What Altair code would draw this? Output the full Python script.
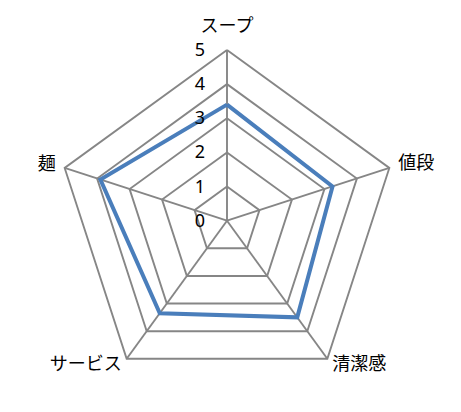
import altair as alt
import numpy as np
import pandas as pd

# ---- data ----
categories = ["スープ", "値段", "清潔感", "サービス", "麺"]
values = [3.4, 3.25, 3.5, 3.35, 3.9]
levels = [1, 2, 3, 4, 5]
tick_values = [0, 1, 2, 3, 4, 5]
tick_labels = ["0", "1", "2", "3", "4", "5"]
max_value = 5

n = len(categories)
angles = np.pi / 2 - 2 * np.pi * np.arange(n) / n

# grid pentagons
grid_rows = []
for lv in levels:
    for k in range(n + 1):
        a = angles[k % n]
        grid_rows.append({"level": lv, "ord": k, "x": lv * np.cos(a), "y": lv * np.sin(a)})
grid_df = pd.DataFrame(grid_rows)

# spokes
spoke_df = pd.DataFrame({
    "cat": categories,
    "x0": [0.0] * n,
    "y0": [0.0] * n,
    "x1": max_value * np.cos(angles),
    "y1": max_value * np.sin(angles),
})

# data polygon
data_rows = []
for k in range(n + 1):
    a = angles[k % n]
    v = values[k % n]
    data_rows.append({"ord": k, "cat": categories[k % n], "x": v * np.cos(a), "y": v * np.sin(a)})
data_df = pd.DataFrame(data_rows)

# tick labels along the first axis
tick_df = pd.DataFrame({
    "label": tick_labels,
    "x": np.array(tick_values) * np.cos(angles[0]),
    "y": np.array(tick_values) * np.sin(angles[0]),
})

xs = alt.Scale(domain=[-6.415, 6.62], nice=False, zero=False)
ys = alt.Scale(domain=[-5.369, 6.230], nice=False, zero=False)

GRID = "#868686"
BLUE = "#4A7EBB"

grid = alt.Chart(grid_df).mark_line(color=GRID, strokeWidth=1.9).encode(
    x=alt.X("x:Q", scale=xs, axis=None),
    y=alt.Y("y:Q", scale=ys, axis=None),
    detail="level:N",
    order="ord:Q",
)

spokes = alt.Chart(spoke_df).mark_rule(color=GRID, strokeWidth=1.9).encode(
    x=alt.X("x0:Q", scale=xs, axis=None),
    y=alt.Y("y0:Q", scale=ys, axis=None),
    x2="x1:Q",
    y2="y1:Q",
)

series = alt.Chart(data_df).mark_line(color=BLUE, strokeWidth=4, strokeJoin="miter").encode(
    x=alt.X("x:Q", scale=xs, axis=None),
    y=alt.Y("y:Q", scale=ys, axis=None),
    order="ord:Q",
)

ticks = alt.Chart(tick_df).mark_text(
    align="right", baseline="middle", dx=-22, dy=1,
    fontSize=18, font="Noto Sans", color="#000000",
).encode(
    x=alt.X("x:Q", scale=xs, axis=None),
    y=alt.Y("y:Q", scale=ys, axis=None),
    text="label:N",
)

label_style = {
    "スープ": dict(align="center", dx=0, dy=-23),
    "値段": dict(align="left", dx=9, dy=-4),
    "清潔感": dict(align="left", dx=5, dy=6),
    "サービス": dict(align="right", dx=-5, dy=6),
    "麺": dict(align="right", dx=-9, dy=-3),
}

label_layers = []
for cat in categories:
    st = label_style[cat]
    label_layers.append(
        alt.Chart(spoke_df).transform_filter(alt.datum.cat == cat).mark_text(
            baseline="middle", fontSize=18, font="Noto Sans CJK JP",
            color="#000000", **st
        ).encode(
            x=alt.X("x1:Q", scale=xs, axis=None),
            y=alt.Y("y1:Q", scale=ys, axis=None),
            text="cat:N",
        )
    )

chart = alt.layer(grid, spokes, series, ticks, *label_layers).properties(
    width=445, height=396, padding=0, autosize=alt.AutoSizeParams(type="none"),
    background="white",
).configure_view(stroke=None)

chart.save("out.html", embed_options={"renderer": "svg", "actions": False})
